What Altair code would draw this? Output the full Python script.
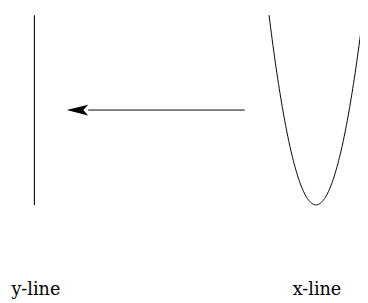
import altair as alt
import numpy as np
import pandas as pd

# Drawing units: x grows to the right, y grows upward (plot area 360 x 295)
vline_x = [27, 27]
vline_y = [97, 291]

arrow_x = [242, 82]
arrow_y = [194, 194]
head_x = [71]
head_y = [194]

# parabola y = y0 + k * (x - x0)^2
para_x0, para_y0, para_k = 315, 97, 0.0842
para_x = list(np.linspace(para_x0 - 48, para_x0 + 48, 121))
para_y = [para_y0 + para_k * (x - para_x0) ** 2 for x in para_x]

label_text = ["y-line", "x-line"]
label_x = [28.5, 316]
label_y = [5, 5]

xs = alt.Scale(domain=[0, 360], nice=False, zero=False)
ys = alt.Scale(domain=[0, 295], nice=False, zero=False)
noax = dict(axis=None)

vline = alt.Chart(pd.DataFrame({"x": vline_x, "y": vline_y})).mark_line(
    color="black", strokeWidth=1.1
).encode(x=alt.X("x:Q", scale=xs, **noax), y=alt.Y("y:Q", scale=ys, **noax))

shaft = alt.Chart(pd.DataFrame({"x": arrow_x, "y": arrow_y})).mark_line(
    color="black", strokeWidth=1
).encode(x=alt.X("x:Q", scale=xs, **noax), y=alt.Y("y:Q", scale=ys, **noax))

head = alt.Chart(pd.DataFrame({"x": head_x, "y": head_y})).mark_point(
    shape="M-1,0L1,-0.5L0.55,0L1,0.5Z", filled=True, color="black", size=484, opacity=1
).encode(x=alt.X("x:Q", scale=xs, **noax), y=alt.Y("y:Q", scale=ys, **noax))

para = alt.Chart(pd.DataFrame({"x": para_x, "y": para_y})).mark_line(
    color="black", strokeWidth=1, clip=True
).encode(x=alt.X("x:Q", scale=xs, **noax), y=alt.Y("y:Q", scale=ys, **noax), order="x:Q")

labels = alt.Chart(pd.DataFrame({"x": label_x, "y": label_y, "t": label_text})).mark_text(
    font="DejaVu Serif", fontSize=18, color="black", align="center", baseline="alphabetic"
).encode(x=alt.X("x:Q", scale=xs, **noax), y=alt.Y("y:Q", scale=ys, **noax), text="t:N")

chart = alt.layer(vline, shaft, head, para, labels).properties(
    width=360, height=295, padding=0, autosize=alt.AutoSizeParams(type="none")
).configure_view(stroke=None)

chart.save("out.html", embed_options={"renderer": "svg", "actions": False})
